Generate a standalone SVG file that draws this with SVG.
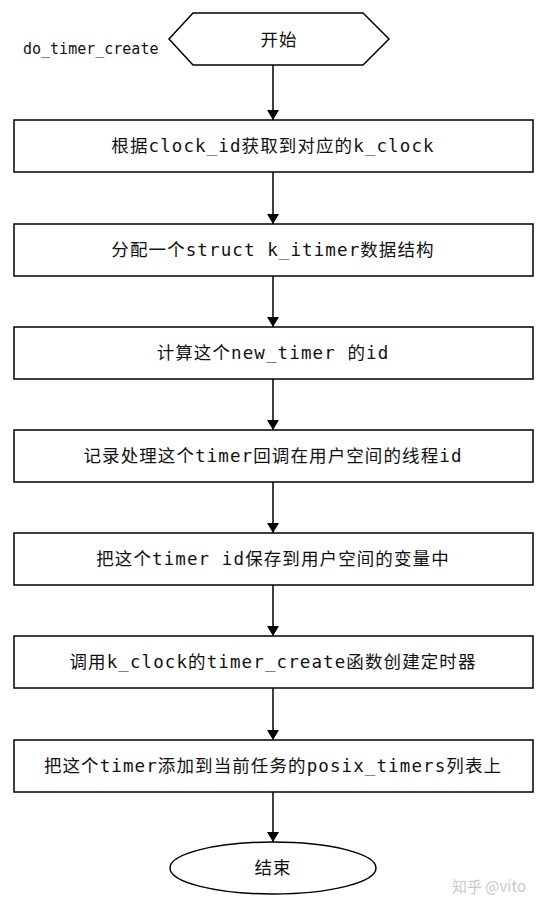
<svg xmlns="http://www.w3.org/2000/svg" width="546" height="910" viewBox="0 0 546 910">
<style>
.s{fill:#fff;stroke:#000;stroke-width:1.5}
.t{font-family:"DejaVu Sans Mono","Noto Sans CJK SC",monospace;font-size:17.5px;letter-spacing:1.1px;text-anchor:middle;fill:#111}
.c{stroke:#000;stroke-width:1.5;fill:none;marker-end:url(#a)}
</style>
<defs>
<marker id="a" viewBox="0 0 10 12" refX="10" refY="6" markerWidth="10" markerHeight="12" markerUnits="userSpaceOnUse" orient="auto"><path d="M0,0 L10,6 L0,12 Z" fill="#000"/></marker>
</defs>
<rect width="546" height="910" fill="#fff"/>
<g id="label"><text x="23" y="54" font-family="DejaVu Sans Mono,monospace" font-size="15" fill="#111">do_timer_create</text></g>
<g id="start"><polygon class="s" points="169,39 193,13 363,13 389,39 363,65 193,65"/><text class="t" x="279" y="46" font-size="18">开始</text></g>
<g id="n1"><rect class="s" x="14" y="120" width="519" height="52"/><text class="t" x="273" y="152">根据clock_id获取到对应的k_clock</text></g>
<g id="n2"><rect class="s" x="14" y="224" width="519" height="52"/><text class="t" x="273" y="256">分配一个struct k_itimer数据结构</text></g>
<g id="n3"><rect class="s" x="14" y="327" width="519" height="52"/><text class="t" x="273" y="359">计算这个new_timer 的id</text></g>
<g id="n4"><rect class="s" x="14" y="430" width="519" height="52"/><text class="t" x="273" y="462">记录处理这个timer回调在用户空间的线程id</text></g>
<g id="n5"><rect class="s" x="14" y="533" width="519" height="52"/><text class="t" x="273" y="565">把这个timer id保存到用户空间的变量中</text></g>
<g id="n6"><rect class="s" x="14" y="636" width="519" height="52"/><text class="t" x="273" y="668">调用k_clock的timer_create函数创建定时器</text></g>
<g id="n7"><rect class="s" x="14" y="740" width="519" height="52"/><text class="t" x="273" y="772">把这个timer添加到当前任务的posix_timers列表上</text></g>
<g id="end"><ellipse class="s" cx="273" cy="868" rx="103" ry="26"/><text class="t" x="273" y="874">结束</text></g>
<g id="connectors">
<line class="c" x1="273" y1="65" x2="273" y2="120"/>
<line class="c" x1="273" y1="172" x2="273" y2="224"/>
<line class="c" x1="273" y1="276" x2="273" y2="327"/>
<line class="c" x1="273" y1="379" x2="273" y2="430"/>
<line class="c" x1="273" y1="482" x2="273" y2="533"/>
<line class="c" x1="273" y1="585" x2="273" y2="636"/>
<line class="c" x1="273" y1="688" x2="273" y2="740"/>
<line class="c" x1="273" y1="792" x2="273" y2="842"/>
</g>
<g id="watermark"><text x="452" y="892" font-family="Noto Sans CJK SC,sans-serif" font-size="15" fill="#c8c8c8">知乎 @vito</text></g>
</svg>
